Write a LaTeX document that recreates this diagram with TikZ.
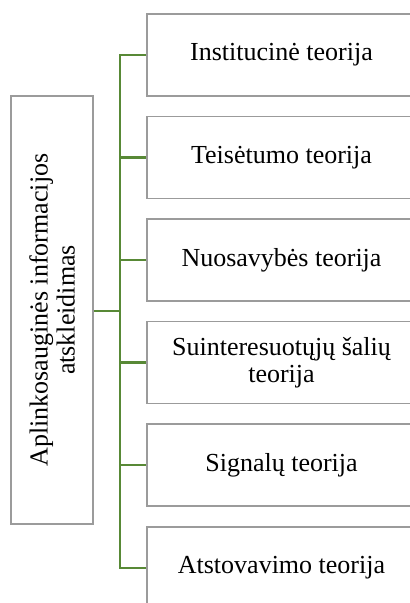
\documentclass[tikz,border=0pt]{standalone}
\usepackage{fontspec}
\setmainfont{Liberation Serif}
\definecolor{boxgray}{RGB}{155,155,155}
\definecolor{linkgreen}{RGB}{88,137,54}
\begin{document}
\begin{tikzpicture}[x=1pt,y=-1pt,
  theorybox/.style={draw=boxgray,line width=1.5pt,fill=white,minimum width=269pt,minimum height=82pt,
    inner sep=0pt,align=center,font=\fontsize{26}{27.5}\selectfont},
  rootbox/.style={draw=boxgray,line width=1.5pt,fill=white,rotate=90,minimum width=428pt,minimum height=82pt,
    inner sep=0pt,align=center,font=\fontsize{26}{27}\selectfont},
  link/.style={draw=linkgreen,line width=2.4pt}]
\useasboundingbox (0,0) rectangle (410,603);
\clip (0,0) rectangle (410,603);

% root topic (vertical text)
\node[rootbox] (root) at (52,310) {Aplinkosauginės informacijos\\atskleidimas};

% theory boxes
\node[theorybox] (t1) at (281.5,55)    {Institucinė teorija};
\node[theorybox] (t2) at (281.5,157.5) {Teisėtumo teorija};
\node[theorybox] (t3) at (281.5,260)   {Nuosavybės teorija};
\node[theorybox] (t4) at (281.5,362.5) {Suinteresuotųjų šalių\\teorija};
\node[theorybox] (t5) at (281.5,465)   {Signalų teorija};
\node[theorybox] (t6) at (281.5,568)   {Atstovavimo teorija};

% bracket connectors
\coordinate (trunk) at (120,311);
\draw[link] (root.south |- trunk) -- (trunk);
\draw[link] (t1.west) -| (trunk |- t6.west) -- (t6.west);
\foreach \t in {t2,t3,t4,t5}
  \draw[link] (trunk |- \t.west) -- (\t.west);
\end{tikzpicture}
\end{document}
